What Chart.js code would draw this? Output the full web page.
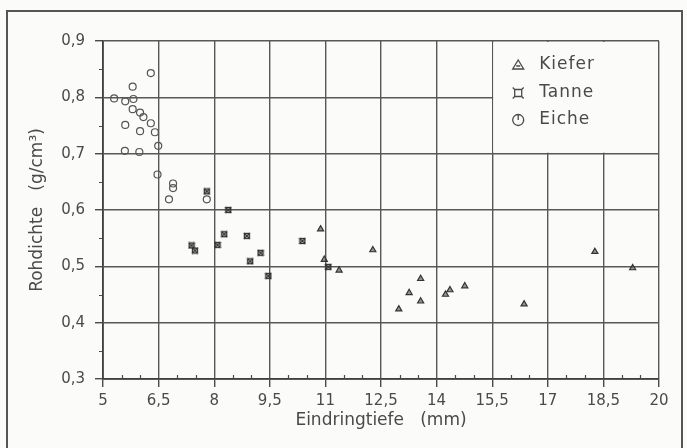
<!DOCTYPE html>
<html>
<head>
<meta charset="utf-8">
<script src="https://cdn.jsdelivr.net/npm/chart.js@4/dist/chart.umd.min.js"></script>
<style>
  html, body { margin: 0; padding: 0; background: #fbfbf9; }
  #wrap { width: 687px; height: 448px; }
</style>
</head>
<body>
<div id="wrap"><canvas id="chart" width="687" height="448"></canvas></div>
<script>
// Eindringtiefe (mm) / Rohdichte (g/cm3) per Holzart
const kieferX = [10.87, 10.97, 11.37, 12.28, 13.57, 13.26, 13.57, 12.98, 14.36, 14.24, 14.76, 16.36, 18.27, 19.29];
const kieferY = [0.566, 0.512, 0.493, 0.529, 0.478, 0.453, 0.438, 0.424, 0.458, 0.450, 0.465, 0.433, 0.526, 0.497];

const tanneX = [7.80, 8.38, 8.27, 8.88, 8.09, 7.39, 7.48, 9.25, 8.97, 9.46, 10.38, 11.08];
const tanneY = [0.633, 0.600, 0.557, 0.554, 0.538, 0.537, 0.528, 0.524, 0.509, 0.483, 0.545, 0.499];

const eicheX = [6.29, 5.80, 5.30, 5.60, 5.82, 5.80, 6.00, 6.09, 6.29, 5.60, 6.00, 6.40, 6.49, 5.59, 5.98, 6.47, 6.89, 6.89, 6.78, 7.80];
const eicheY = [0.843, 0.819, 0.798, 0.793, 0.797, 0.779, 0.773, 0.765, 0.754, 0.751, 0.740, 0.738, 0.714, 0.705, 0.703, 0.663, 0.647, 0.639, 0.619, 0.619];

const legendLabels = ['Kiefer', 'Tanne', 'Eiche'];

const ink = '#4a4a4a';
const gridInk = '#585858';
const fontFamily = '"DejaVu Sans", sans-serif';

function toPoints(xs, ys) {
    return xs.map((x, i) => ({ x: x, y: ys[i] }));
}

function comma(v) {
    return String(Math.round(v * 10) / 10).replace('.', ',');
}

// small square with a cross, used for Tanne
function tanneMarker(size) {
    const c = document.createElement('canvas');
    c.width = c.height = size;
    const g = c.getContext('2d');
    g.strokeStyle = '#333';
    g.lineWidth = 1.3;
    g.strokeRect(1.5, 1.5, size - 3, size - 3);
    g.beginPath();
    g.moveTo(1, 1); g.lineTo(size - 1, size - 1);
    g.moveTo(size - 1, 1); g.lineTo(1, size - 1);
    g.stroke();
    return c;
}

// frame, legend box and minor ticks
const decorations = {
    id: 'decorations',
    beforeDraw(chart) {
        const ctx = chart.ctx;
        ctx.save();
        ctx.fillStyle = '#fbfbf9';
        ctx.fillRect(0, 0, chart.width, chart.height);
        ctx.strokeStyle = '#555';
        ctx.lineWidth = 2;
        ctx.beginPath();
        ctx.moveTo(7, chart.height);
        ctx.lineTo(7, 11);
        ctx.lineTo(682, 11);
        ctx.lineTo(682, chart.height);
        ctx.stroke();
        ctx.restore();
    },
    beforeDatasetsDraw(chart) {
        const { ctx, scales: { x, y } } = chart;
        const left = x.getPixelForValue(15.5);
        const right = x.getPixelForValue(20);
        const top = y.getPixelForValue(0.9);
        const bottom = y.getPixelForValue(0.7);
        ctx.save();
        ctx.fillStyle = '#fbfbf9';
        ctx.fillRect(left + 1, top + 1, right - left - 2, bottom - top - 2);

        // minor ticks
        ctx.strokeStyle = ink;
        ctx.lineWidth = 1.2;
        ctx.beginPath();
        for (let v = 0.35; v < 0.9; v += 0.1) {
            const py = Math.round(y.getPixelForValue(v)) + 0.5;
            ctx.moveTo(x.left - 4, py);
            ctx.lineTo(x.left, py);
        }
        for (let v = 5.5; v < 20; v += 0.5) {
            if (Math.abs((v - 5) / 1.5 - Math.round((v - 5) / 1.5)) < 1e-6) continue;
            const px = Math.round(x.getPixelForValue(v)) + 0.5;
            ctx.moveTo(px, y.bottom);
            ctx.lineTo(px, y.bottom - 4);
        }
        ctx.stroke();

        // legend entries
        const mx = left + 26;
        const tx = left + 47;
        const rows = [top + 24, top + 52, top + 79];
        ctx.font = '17px ' + fontFamily;
        ctx.fillStyle = ink;
        ctx.textBaseline = 'middle';
        ctx.letterSpacing = '1px';
        legendLabels.forEach((label, i) => ctx.fillText(label, tx, rows[i]));

        ctx.strokeStyle = ink;
        ctx.lineWidth = 1.3;
        // Kiefer: triangle
        let cy = rows[0];
        ctx.beginPath();
        ctx.moveTo(mx, cy - 5);
        ctx.lineTo(mx + 5.5, cy + 4);
        ctx.lineTo(mx - 5.5, cy + 4);
        ctx.closePath();
        ctx.moveTo(mx - 2, cy + 1);
        ctx.lineTo(mx + 2, cy + 1);
        ctx.stroke();
        // Tanne: square with corner spurs
        cy = rows[1];
        ctx.beginPath();
        ctx.rect(mx - 3.5, cy - 3.5, 7, 7);
        [[-1, -1], [1, -1], [1, 1], [-1, 1]].forEach(([sx, sy]) => {
            ctx.moveTo(mx + sx * 3.5, cy + sy * 3.5);
            ctx.lineTo(mx + sx * 5.5, cy + sy * 5.5);
        });
        ctx.stroke();
        // Eiche: circle with a stem
        cy = rows[2];
        ctx.beginPath();
        ctx.arc(mx, cy, 5.5, 0, Math.PI * 2);
        ctx.moveTo(mx, cy - 5.5);
        ctx.lineTo(mx, cy);
        ctx.stroke();
        ctx.restore();
    }
};

const ctx = document.getElementById('chart').getContext('2d');
new Chart(ctx, {
    type: 'scatter',
    data: {
        datasets: [
            {
                label: legendLabels[0],
                data: toPoints(kieferX, kieferY),
                pointStyle: 'triangle',
                pointRadius: 3.5,
                borderColor: '#333',
                backgroundColor: 'rgba(80,80,80,0.6)',
                borderWidth: 1.2
            },
            {
                label: legendLabels[1],
                data: toPoints(tanneX, tanneY),
                pointStyle: tanneMarker(8),
                pointRadius: 4
            },
            {
                label: legendLabels[2],
                data: toPoints(eicheX, eicheY),
                pointStyle: 'circle',
                pointRadius: 3.5,
                borderColor: '#555',
                backgroundColor: 'rgba(255,255,255,0)',
                borderWidth: 1.2
            }
        ]
    },
    options: {
        responsive: false,
        animation: false,
        layout: { padding: { top: 41, right: 28, left: 0, bottom: 0 } },
        plugins: {
            legend: { display: false },
            tooltip: { enabled: false }
        },
        scales: {
            x: {
                type: 'linear',
                min: 5,
                max: 20,
                afterFit(scale) { scale.height = 69; },
                ticks: {
                    stepSize: 1.5,
                    maxTicksLimit: 20,
                    color: ink,
                    padding: 5,
                    font: { family: fontFamily, size: 15 },
                    callback: (v) => comma(v),
                    maxRotation: 0
                },
                grid: { color: gridInk, lineWidth: 1.4, tickLength: 8, tickColor: ink },
                border: { color: '#404040', width: 1.8 },
                title: {
                    display: true,
                    text: 'Eindringtiefe   (mm)',
                    color: ink,
                    font: { family: fontFamily, size: 17 },
                    padding: { top: 0, bottom: 17 }
                }
            },
            y: {
                min: 0.3,
                max: 0.9,
                afterFit(scale) { scale.width = 103; },
                ticks: {
                    stepSize: 0.1,
                    color: ink,
                    padding: 10,
                    font: { family: fontFamily, size: 15 },
                    callback: (v) => comma(v)
                },
                grid: { color: gridInk, lineWidth: 1.4, tickLength: 8, tickColor: ink },
                border: { color: '#404040', width: 1.8 },
                title: {
                    display: true,
                    text: 'Rohdichte   (g/cm³)',
                    color: ink,
                    font: { family: fontFamily, size: 17 },
                    padding: { top: 27, bottom: 0 }
                }
            }
        }
    },
    plugins: [decorations]
});
</script>
</body>
</html>
